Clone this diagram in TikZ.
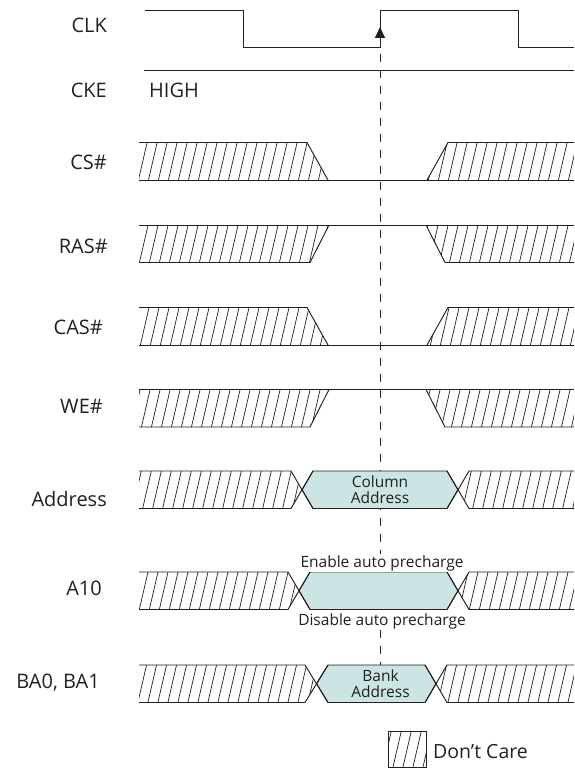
\documentclass[tikz,border=0pt]{standalone}
\usepackage{fontspec}
\setmainfont{Open Sans}
\usetikzlibrary{arrows.meta}
\definecolor{ink}{HTML}{231F20}
\definecolor{valfill}{HTML}{CAE5E3}
\tikzset{
  sig/.style={draw=ink, line width=0.95pt, line join=miter},
  hatchln/.style={draw=ink, line width=0.7pt},
  val/.style={sig, fill=valfill},
  guide/.style={draw=ink, line width=0.9pt, dash pattern=on 8pt off 8pt},
  lab/.style={text=ink, font=\fontsize{20}{24}\selectfont, anchor=east, inner sep=0pt},
  labv/.style={text=ink, font=\fontsize{15.5}{16}\selectfont, align=center, inner sep=0pt},
}
% diagonal "don't care" lines inside a closed path
\newcommand{\hatchfill}[1]{%
  \begin{scope}
    \clip #1;
    \foreach \hx in {-190,-180,...,580}
      \draw[hatchln] (\hx,780) -- ++(180,-780);
  \end{scope}}

\begin{document}
\begin{tikzpicture}[x=1pt,y=-1pt]
  \useasboundingbox (0,0) rectangle (574,768);

  % signal names
  \node[lab] (clk) at (107,25) {CLK};
  \node[lab] (cke) at (107,90) {CKE};
  \node[lab] (cs) at (107,162) {CS\#};
  \node[lab] (ras) at (108,246.5) {RAS\#};
  \node[lab] (cas) at (103,327) {CAS\#};
  \node[lab] (we) at (103,406) {WE\#};
  \node[lab] (addr) at (107,499) {Address};
  \node[lab] (aten) at (102,588) {A10};
  \node[lab] (ba) at (100,683) {BA0, BA1};

  \coordinate (edge) at (380,47.5);
  \coordinate (tick) at (380,27);
  \coordinate (guideend) at (380,665);

  \draw[guide] (380,38) -- (guideend);

  % clock and clock enable
  \draw[sig] (145,10) -- (243.5,10) -- (243.5,47.5) -- (edge) -- (380,10)
    -- (518,10) -- (518,47.5) -- (574,47.5);
  \draw[sig, -{Triangle[length=11pt,width=10pt]}] (edge) -- (tick);
  \draw[sig] (144,70) -- (574,70);
  \node[lab, anchor=west] (high) at (149,90) {HIGH};

  % CS#, CAS# low
  \foreach \t in {142.5,307.5} {
    \pgfmathsetmacro{\b}{\t+37.5}
    \hatchfill{(139,\t) -- (307,\t) -- (328,\b) -- (139,\b) -- cycle}
    \hatchfill{(427,\b) -- (448,\t) -- (574,\t) -- (574,\b) -- cycle}
    \draw[sig] (139,\b) -- (574,\b);
    \draw[sig] (139,\t) -- (307,\t) -- (328,\b);
    \draw[sig] (427,\b) -- (448,\t) -- (574,\t);
  }

  % RAS#, WE# high
  \foreach \t in {225,389.5} {
    \pgfmathsetmacro{\b}{\t+37.5}
    \hatchfill{(139,\t) -- (329,\t) -- (310,\b) -- (139,\b) -- cycle}
    \hatchfill{(426,\t) -- (574,\t) -- (574,\b) -- (445,\b) -- cycle}
    \draw[sig] (139,\t) -- (574,\t);
    \draw[sig] (139,\b) -- (310,\b) -- (329,\t);
    \draw[sig] (426,\t) -- (445,\b) -- (574,\b);
  }

  % address, A10, bank
  \foreach \t/\a/\c/\e/\f/\g/\h in {471/291/302/313/447/458/469,
      572/288/299/310/447/458/469, 665/305/316.5/328/425/436/447} {
    \pgfmathsetmacro{\b}{\t+37.5}
    \pgfmathsetmacro{\m}{\t+18.75}
    \hatchfill{(139,\t) -- (\a,\t) -- (\c,\m) -- (\a,\b) -- (139,\b) -- cycle}
    \hatchfill{(\g,\m) -- (\h,\t) -- (574,\t) -- (574,\b) -- (\h,\b) -- cycle}
    \draw[val] (\c,\m) -- (\e,\t) -- (\f,\t) -- (\g,\m) -- (\f,\b) -- (\e,\b) -- cycle;
    \draw[sig] (139,\t) -- (\a,\t) -- (\e,\b);
    \draw[sig] (139,\b) -- (\a,\b) -- (\e,\t);
    \draw[sig] (\f,\t) -- (\h,\b) -- (574,\b);
    \draw[sig] (\f,\b) -- (\h,\t) -- (574,\t);
  }

  \node[labv] (coladdr) at (380,489.5) {Column\\Address};
  \node[labv, fill=white, inner sep=1pt] (apon) at (382,563) {Enable auto precharge};
  \node[labv, fill=white, inner sep=1pt] (apoff) at (382,621) {Disable auto precharge};
  \node[labv] (bankaddr) at (380.5,684) {Bank\\Address};

  % legend
  \hatchfill{(388,731) rectangle (426,767)}
  \draw[sig] (388,731) rectangle (426,767);
  \node[lab, anchor=west, font=\fontsize{19.5}{22}\selectfont] (dc) at (433,752) {Don’t Care};
\end{tikzpicture}
\end{document}
